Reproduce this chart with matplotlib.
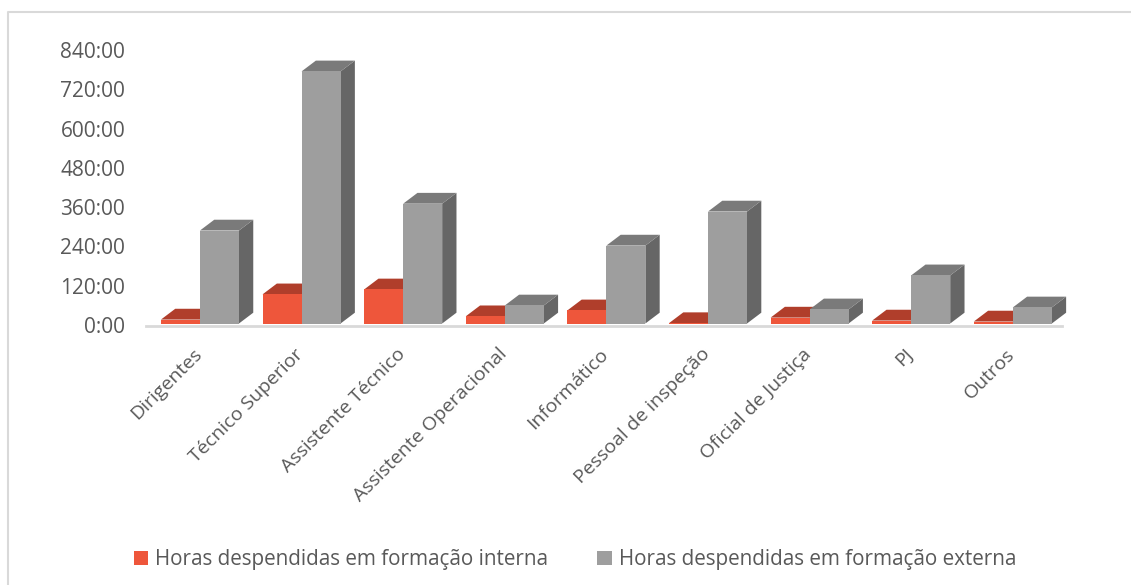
import matplotlib
matplotlib.use("Agg")
import matplotlib.pyplot as plt
from matplotlib.patches import Polygon, Patch
from matplotlib.lines import Line2D
from matplotlib.transforms import ScaledTranslation

categorias = ["Dirigentes", "Técnico Superior", "Assistente Técnico", "Assistente Operacional",
              "Informático", "Pessoal de inspeção", "Oficial de Justiça", "PJ", "Outros"]
# horas
internas = [12, 89, 104, 22, 40, 1, 18, 9, 6]
externas = [284, 770, 366, 55, 238, 342, 43, 147, 49]
ticks = [0, 120, 240, 360, 480, 600, 720, 840]
tick_labels = ["0:00", "120:00", "240:00", "360:00", "480:00", "600:00", "720:00", "840:00"]

W, H = 1131, 585
plt.rcParams["font.family"] = ["Open Sans", "DejaVu Sans"]
cor_texto = "#595959"

fig = plt.figure(figsize=(W / 100, H / 100), dpi=100)
# moldura do gráfico: só em cima e à esquerda, o resto fica fora do recorte
fig.add_artist(Line2D([8 / W, 8 / W, 1], [0, 1 - 11.5 / H, 1 - 11.5 / H], color="#D9D9D9", lw=1.5))

ax = fig.add_axes([146 / W, 1 - 323.5 / H, 916 / W, 275 / H])
ax.set_xlim(-0.531, 8.484)
ax.set_ylim(0, 840)
ax.patch.set_alpha(0)

larg = 39 / 101.6
dx = 14.3 / 101.6    # profundidade 3D
dy = 33              # em horas


def barra3d(x, v, frente, topo, lado):
    ax.add_patch(Polygon([(x + larg, 0), (x + larg + dx, dy), (x + larg + dx, v + dy), (x + larg, v)],
                         fc=lado, ec="none", clip_on=False))
    ax.add_patch(Polygon([(x, v), (x + dx, v + dy), (x + larg + dx, v + dy), (x + larg, v)],
                         fc=topo, ec="none", clip_on=False))
    ax.bar(x, v, larg, align="edge", color=frente, clip_on=False)


for i in range(len(categorias)):
    barra3d(i - larg, internas[i], "#EE563B", "#B03E2B", "#8F3323")
    barra3d(i, externas[i], "#9E9E9E", "#7A7A7A", "#666666")

for s in ["top", "right", "left"]:
    ax.spines[s].set_visible(False)
ax.spines["bottom"].set_color("#D9D9D9")
ax.spines["bottom"].set_linewidth(2)
ax.spines["bottom"].set_position(("outward", 1.5))

ax.set_yticks(ticks, tick_labels, fontsize=15, color=cor_texto)
ax.tick_params(axis="y", length=0, pad=15)
ax.set_xticks(range(len(categorias)), categorias, fontsize=14, color=cor_texto,
              rotation=45, ha="right", rotation_mode="anchor")
ax.tick_params(axis="x", length=0, pad=14)
desloca = ScaledTranslation(-7 / 100, 0, fig.dpi_scale_trans)
for t in ax.get_xticklabels():
    t.set_transform(t.get_transform() + desloca)
desloca_y = ScaledTranslation(0, -1.5 / 100, fig.dpi_scale_trans)
for t in ax.get_yticklabels():
    t.set_transform(t.get_transform() + desloca_y)

handles = [Patch(fc="#EE563B"), Patch(fc="#9E9E9E")]
fig.legend(handles, ["Horas despendidas em formação interna", "Horas despendidas em formação externa"],
           ncol=2, frameon=False, fontsize=14.9, labelcolor=cor_texto, loc="center",
           bbox_to_anchor=(575 / W, 1 - 559.5 / H), handlelength=0.7, handleheight=0.7,
           handletextpad=0.35, columnspacing=2.35)

fig.savefig("out.png", dpi=100)
